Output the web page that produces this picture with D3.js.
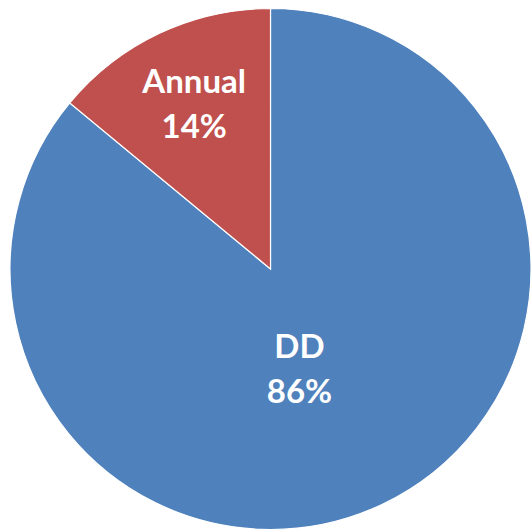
<!DOCTYPE html>
<html>
<head>
<meta charset="utf-8">
<script src="https://cdn.jsdelivr.net/npm/d3@7"></script>
<style>
html,body{margin:0;padding:0;background:#fff;}
svg{display:block;}
</style>
</head>
<body>
<svg id="chart" width="531" height="531"></svg>
<script>
const categories = ["DD", "Annual"];
const values = [86, 14];
const colors = ["#4F81BD", "#C0504D"];

const W = 531, H = 531;
const cx = 270.5, cy = 269, R = 260.5;

const svg = d3.select("#chart");
const g = svg.append("g").attr("transform", `translate(${cx},${cy})`);

const data = categories.map((c, i) => ({ cat: c, val: values[i], color: colors[i] }));
const pie = d3.pie().sort(null).value(d => d.val);
const arcs = pie(data);
const arc = d3.arc().innerRadius(0).outerRadius(R);

g.selectAll("path.slice")
  .data(arcs)
  .join("path")
  .attr("class", "slice")
  .attr("d", arc)
  .attr("fill", d => d.data.color)
  .attr("stroke", "#fff")
  .attr("stroke-width", 1.2);

// label placement (relative radius and small nudges, per category)
const labelPos = {
  "DD": { r: 0.45, dx: -21, dy: 5 },
  "Annual": { r: 0.67, dx: -2, dy: 4 }
};
const total = d3.sum(values);
const labels = g.selectAll("g.lbl")
  .data(arcs)
  .join("g")
  .attr("class", "lbl")
  .attr("transform", d => {
    const p = labelPos[d.data.cat];
    const a = (d.startAngle + d.endAngle) / 2;
    const rr = p.r * R;
    return `translate(${Math.sin(a) * rr + p.dx},${-Math.cos(a) * rr + p.dy})`;
  });

labels.append("text")
  .attr("text-anchor", "middle")
  .attr("y", -22)
  .attr("font-family", "Lato, 'Open Sans', sans-serif")
  .attr("font-weight", "bold")
  .attr("font-size", 33)
  .attr("fill", "#fff")
  .text(d => d.data.cat);

labels.append("text")
  .attr("text-anchor", "middle")
  .attr("y", 22.5)
  .attr("font-family", "Lato, 'Open Sans', sans-serif")
  .attr("font-weight", "bold")
  .attr("font-size", 33)
  .attr("fill", "#fff")
  .text(d => Math.round(d.data.val / total * 100) + "%");
</script>
</body>
</html>
